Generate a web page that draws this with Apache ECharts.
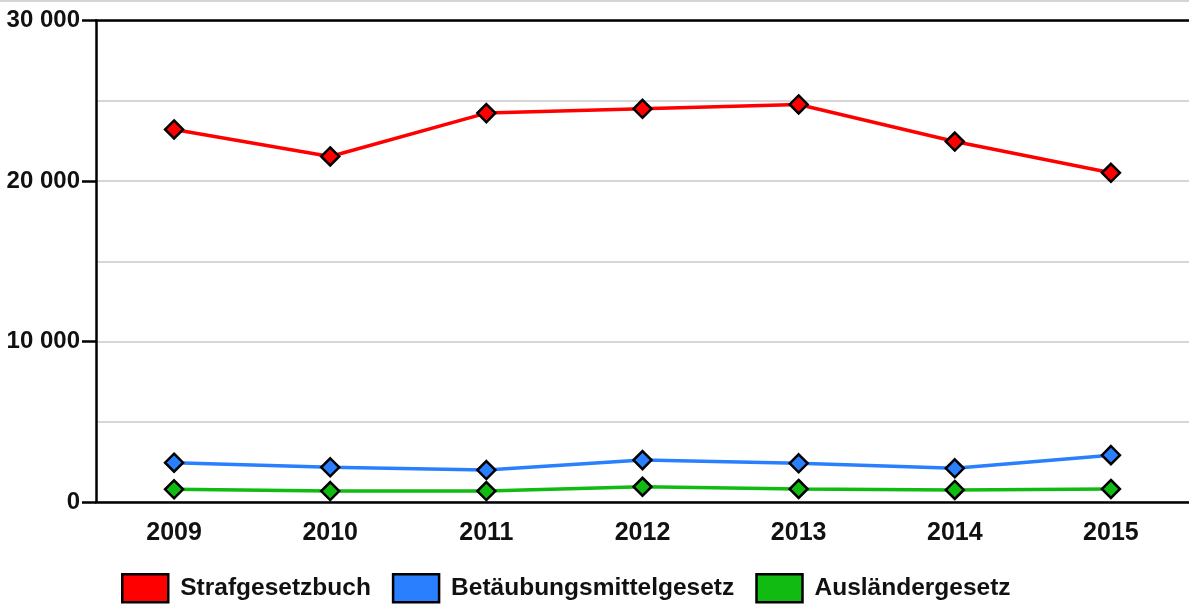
<!DOCTYPE html>
<html>
<head>
<meta charset="utf-8">
<script src="https://cdn.jsdelivr.net/npm/echarts@6/dist/echarts.min.js"></script>
<style>
  html, body { margin: 0; padding: 0; background: #fff; }
  #chart { width: 1189px; height: 607px; }
</style>
</head>
<body>
<div id="chart"></div>
<script>
// Years on the category axis
const years = ['2009', '2010', '2011', '2012', '2013', '2014', '2015'];

// Series names, in legend order
const seriesNames = ['Strafgesetzbuch', 'Betäubungsmittelgesetz', 'Ausländergesetz'];

// Values per year
const strafgesetzbuch = [23210, 21530, 24230, 24500, 24770, 22460, 20510];
const betaeubungsmittelgesetz = [2450, 2160, 1990, 2610, 2410, 2100, 2920];
const auslaendergesetz = [790, 680, 680, 950, 810, 750, 810];

// Value axis range
const yMin = 0;
const yMax = 30000;
const yStep = 10000;

const colors = ['#ff0000', '#2a7fff', '#11bb11'];
const font = '"Liberation Sans", Arial, Helvetica, sans-serif';

// "30 000" style thousands grouping
function groupThousands(v) {
  return String(v).replace(/\B(?=(\d{3})+(?!\d))/g, ' ');
}

const chart = echarts.init(document.getElementById('chart'), null, { renderer: 'canvas' });

function makeSeries(name, data, color) {
  return {
    name: name,
    type: 'line',
    data: data,
    symbol: 'diamond',
    symbolSize: 18,
    lineStyle: { color: color, width: 3.5 },
    itemStyle: { color: color, borderColor: '#000', borderWidth: 2.5 },
    emphasis: { disabled: true },
    animation: false
  };
}

chart.setOption({
  backgroundColor: '#fff',
  textStyle: { fontFamily: font },
  grid: { left: 96, right: -3, top: 20.5, bottom: 105, containLabel: false },
  graphic: [{
    type: 'line',
    shape: { x1: 0, y1: 1, x2: 1189, y2: 1 },
    style: { stroke: '#d4d4d4', lineWidth: 2 },
    silent: true
  }],
  xAxis: [{
    type: 'category',
    data: years,
    boundaryGap: true,
    axisLine: { lineStyle: { color: '#000', width: 2.5 } },
    axisTick: { show: false },
    axisLabel: { color: '#111', fontSize: 25, fontWeight: 'bold', fontFamily: font, margin: 19 },
    splitLine: { show: false }
  }, {
    type: 'category',
    data: years,
    position: 'top',
    boundaryGap: true,
    axisLine: { show: true, lineStyle: { color: '#000', width: 2.5 } },
    axisTick: { show: false },
    axisLabel: { show: false },
    splitLine: { show: false }
  }],
  yAxis: {
    type: 'value',
    min: yMin,
    max: yMax,
    interval: yStep,
    axisLine: { show: true, lineStyle: { color: '#000', width: 2.5 } },
    axisTick: { show: true, length: 14, lineStyle: { color: '#000', width: 2.5 } },
    axisLabel: {
      color: '#111', fontSize: 24, fontWeight: 'bold', fontFamily: font, margin: 16,
      formatter: groupThousands
    },
    splitLine: { show: true, lineStyle: { color: '#d6d6d6', width: 2 } },
    minorTick: { show: false, splitNumber: 2 },
    minorSplitLine: { show: true, lineStyle: { color: '#d6d6d6', width: 2 } }
  },
  legend: {
    data: seriesNames,
    left: 121,
    top: 573,
    padding: 0,
    itemWidth: 46,
    itemHeight: 28,
    itemGap: 21,
    icon: 'rect',
    itemStyle: { borderColor: '#000', borderWidth: 2.5 },
    textStyle: { color: '#111', fontSize: 24.5, fontWeight: 'bold', fontFamily: font, padding: [0, 0, 0, 7] },
    selectedMode: false
  },
  series: [
    makeSeries(seriesNames[0], strafgesetzbuch, colors[0]),
    makeSeries(seriesNames[1], betaeubungsmittelgesetz, colors[1]),
    makeSeries(seriesNames[2], auslaendergesetz, colors[2])
  ]
});
</script>
</body>
</html>
